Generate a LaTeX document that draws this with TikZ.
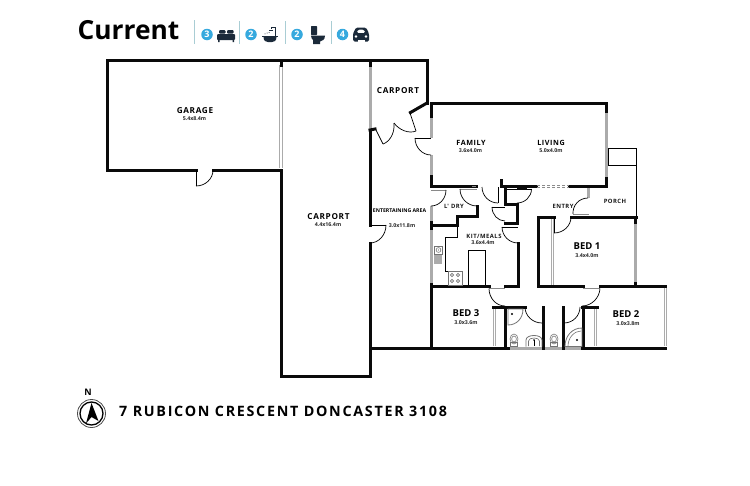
\documentclass[tikz,border=0pt]{standalone}
\usepackage{fontspec}
\setmainfont{Open Sans}
\newfontfamily\labf[LetterSpace=8]{Open Sans}
\newfontfamily\addrf[LetterSpace=12]{Open Sans}
\usetikzlibrary{calc}
\definecolor{wallc}{HTML}{0A0A0A}
\definecolor{greyw}{HTML}{ABABAB}
\definecolor{badge}{HTML}{36A9DE}
\definecolor{icon}{HTML}{1B2A3A}
\definecolor{divid}{HTML}{A9CDD4}
\tikzset{
 wall/.style={draw=wallc,line width=3pt,line cap=rect,miter limit=4},
 wallm/.style={draw=wallc,line width=2.2pt},
 win/.style={draw=greyw,line width=3pt},
 winbar/.style={draw=greyw,line width=1pt},
 thinl/.style={draw=black,line width=.7pt},
 greyleaf/.style={draw=greyw!80!black,line width=1pt},
 fix/.style={draw=black!55,line width=.6pt},
 roomlab/.style={font=\labf\bfseries\fontsize{8.2}{9}\selectfont,inner sep=0pt,text=black},
 midlab/.style={font=\labf\bfseries\fontsize{7.2}{8}\selectfont,inner sep=0pt,text=black},
 smalllab/.style={font=\labf\bfseries\fontsize{5.9}{7}\selectfont,inner sep=0pt,text=black!90},
 sizelab/.style={font=\bfseries\fontsize{5.3}{6}\selectfont,inner sep=0pt,text=black!85},
 bedlab/.style={font=\bfseries\fontsize{9.5}{11}\selectfont,inner sep=0pt,text=black},
 badgec/.style={circle,fill=badge,inner sep=0pt,minimum size=11.5pt,text=white,font=\bfseries\fontsize{9}{9}\selectfont},
 dividl/.style={draw=divid,line width=.8pt},
}
% hinge, start, end : quarter door swing
\newcommand{\swing}[3]{\draw[thinl] (#2) .. controls ($(#2)+.55*(#3)-.55*(#1)$) and ($(#3)+.55*(#2)-.55*(#1)$) .. (#3);}
\begin{document}
\begin{tikzpicture}[x=1pt,y=-1pt]
\useasboundingbox (0,0) rectangle (750,485);
\fill[white] (0,0) rectangle (750,485);

% ---- title
\node[anchor=west,inner sep=0pt,font=\bfseries\fontsize{26.3}{28}\selectfont] (title) at (77.5,30.5) {Current};
\draw[dividl] (194.5,20) -- (194.5,44);
\draw[dividl] (239.5,21) -- (239.5,44);
\draw[dividl] (285.5,21) -- (285.5,44);
\draw[dividl] (331.5,21) -- (331.5,44);
\node[badgec] (b1) at (207,34.5) {3};
\node[badgec] (b2) at (251,34.5) {2};
\node[badgec] (b3) at (297,34.5) {2};
\node[badgec] (b4) at (342.5,34.5) {4};
% bed
\fill[icon,rounded corners=1pt] (217,34) rectangle (235,40);
\fill[icon,rounded corners=1pt] (219,30) rectangle (225.5,33.5);
\fill[icon,rounded corners=1pt] (227,30) rectangle (233.5,33.5);
\fill[icon] (218,40) rectangle (219.5,42) (232.5,40) rectangle (234,42);
% bath
\fill[icon] (262,35.5) rectangle (278,37);
\fill[icon] (263.5,37) -- (276.5,37) .. controls (276.5,41) and (274,42) .. (272,42) -- (268,42) .. controls (266,42) and (263.5,41) .. (263.5,37) -- cycle;
\draw[icon,line width=1pt] (275.5,36) -- (275.5,27) -- (271,27) -- (271,29);
\fill[icon] (268.5,29.5) rectangle (273,31);
\fill[icon] (267,33) circle (.5) (269,32.5) circle (.5) (265,33.8) circle (.5);
% toilet
\fill[icon,rounded corners=.6pt] (311,26) rectangle (317,35);
\fill[icon] (311,35.5) -- (325,35.5) .. controls (325,40) and (322,41) .. (320,41.5) -- (320,44) -- (313,44) -- (313,40) .. controls (312,39) and (311,38) .. (311,35.5) -- cycle;
% car
\fill[icon,rounded corners=1.5pt,even odd rule] (353,41.5) -- (353,33.5) -- (356,27.5) -- (366,27.5) -- (369,33.5) -- (369,41.5) -- cycle (356.5,33) -- (358,29.5) -- (364,29.5) -- (365.5,33) -- cycle;
\fill[white] (356,36.5) circle (1.3) (366,36.5) circle (1.3);
\fill[white] (357.5,40.3) rectangle (364.5,42);

% ---- windows (under walls)
\draw[win] (370,66) -- (370,129);
\draw[winbar] (279.7,65) -- (279.7,168) (282.5,65) -- (282.5,168);
\draw[win] (431,116) -- (431,138);
\draw[win] (431,155) -- (431,176);
\draw[win] (606,111) -- (606,178);
\draw[win] (635.5,222) -- (635.5,283);
\draw[win] (431,206) -- (431,223);
\draw[win] (431,228) -- (431,284);
\draw[win] (431,289) -- (431,346);
\draw[win] (588,187) -- (588,198);
\draw[win] (552,219) -- (552,285);
\draw[win] (494.5,308) -- (494.5,346);
\draw[win] (595.5,308) -- (595.5,346);
\draw[win] (665,288) -- (665,346);
\fill[white] (551.6,219) rectangle (552.4,285);
\fill[white] (494.1,308) rectangle (494.9,346);
\fill[white] (595.1,308) rectangle (595.9,346);
\fill[white] (664.6,288) rectangle (665.4,346);
\draw[win] (508,348) -- (582,348);

% ---- walls
\draw[wall] (196,170) -- (107,170) -- (107,60) -- (427,60) -- (427,103);
\draw[wall] (213,170) -- (281,170);
\draw[wall] (281,60) -- (281,65);
\draw[wall] (281,170) -- (281,376) -- (370,376) -- (370,243);
\draw[wall] (370,225) -- (370,130);
\draw[wall] (370,60) -- (370,65);
\draw[wall] (370,130) -- (375,129);
\draw[wall] (427,103) -- (410.5,112.5);
\draw[wall] (431,116) -- (431,103) -- (606,103) -- (606,111);
\draw[wall] (431,176) -- (431,186) -- (476,186);
\draw[wall] (606,178) -- (606,186) -- (569,186);
\draw[wall] (536,186) -- (501,186) -- (501,180);
\draw[wall] (505,186) -- (505,204) -- (517.5,204) -- (517.5,223) -- (505,223);
\draw[wall] (518,243) -- (518,286);
\draw[wall] (477,206) -- (477,216.5) -- (457,216.5) -- (457,225) -- (431,225);
\draw[wall] (431,222) -- (431,228);
\draw[wall] (431,284) -- (431,348);
\draw[wall] (431,286) -- (489,286);
\draw[wall] (505,286) -- (518,286);
\draw[wall] (571,217) -- (636,217);
\draw[wall] (554,217) -- (538,217) -- (538,286) -- (583,286);
\draw[wall] (600,286) -- (665,286);
\draw[wall] (635.5,217) -- (635.5,222);
\draw[wall] (635.5,283) -- (635.5,286);
\draw[wall] (370,348) -- (508,348);
\draw[wall] (582,348) -- (665,348);
\draw[wall] (493,307) -- (525,307);
\draw[wall] (505.5,307) -- (505.5,348);
\draw[wall] (543.5,307) -- (543.5,348);
\draw[wall] (563,307) -- (563,348);
\draw[wall] (582,307) -- (597,307);
\draw[wall] (583,307) -- (583,348);

% ---- porch
\draw[thinl,line width=1pt] (608,148) -- (636,148) -- (636,216);
\draw[thinl,line width=1pt] (608,148) -- (608,165) -- (636,165);

% ---- sliding door
\draw[black!45,line width=.6pt,dash pattern=on 3pt off 2pt] (537,185) -- (569,185) (537,187) -- (569,187);

% ---- door leaves and swings
\draw[thinl] (196,170) -- (196,186); \swing{196,170}{196,186}{213,170}
% carport double door
\draw[thinl] (376,130) -- (383,144);
\draw[thinl] (383,144) .. controls (389,142) and (395,134) .. (394,123);
\draw[thinl] (394,123) .. controls (399,130) and (409,134) .. (416,131);
\draw[thinl] (416,131) -- (410,113);
% family
\draw[thinl] (415,138) -- (431,138); \swing{431,138}{415,138}{431,155}
% under family
\draw[thinl] (498,187) -- (498,203); \swing{498,187}{482,187}{498,203}
\draw[greyleaf] (476,186) -- (472,186);
% closet doors
\draw[thinl] (507,189) -- (531.5,189); \swing{517,189}{531.5,189}{517,203}
\draw[wallm] (517,188.5) -- (527,188.5);
\draw[thinl] (492,207) -- (505,207); \swing{505,207}{492,207}{505,221}
% l'dry
\draw[greyleaf] (431,190) -- (446,190); \swing{431,190}{446,190}{431,206}
\draw[greyleaf] (460,189) -- (477,189); \swing{477,189}{460,189}{477,206}
% kit
\draw[thinl] (502,227) -- (518,227); \swing{518,227}{502,227}{518,243}
% entertaining
\draw[thinl] (370,225) -- (386,225); \swing{370,225}{386,225}{370,243}
% entry
\draw[greyleaf] (573,214) -- (589,214); \swing{589,214}{573,214}{588,198}
% bed 1
\draw[thinl] (554,217) -- (554,233); \swing{554,217}{554,233}{571,217}
% bed 3
\draw[greyleaf] (489,288.5) -- (505,288.5); \swing{505,288.5}{489,288.5}{505,306}
% bed 2
\draw[greyleaf] (583,288.5) -- (600,288.5); \swing{583,288.5}{600,288.5}{582,306}
% bathrooms
\swing{542,307}{525,307}{542,323}
\swing{564,307}{580,307}{564,323}

% ---- kitchen fittings
\draw[thinl,line width=.6pt] (457,227) -- (457,237) -- (445,237) -- (445,271) -- (448,271);
\draw[fix] (448,271) rectangle (462,285);
\foreach \a/\b in {452/275,458/275,452/281,458/281} \draw[fix] (\a,\b) circle (1.6);
\draw[thinl,line width=.6pt] (468,285) -- (468,250) -- (485,250) -- (485,285);
\fill[greyw] (434,254) rectangle (442,264);
\draw[fix] (434,246) rectangle (442,254);
\draw[fix] (438.5,250) circle (2.4);
\fill[black!60] (438.5,250) circle (.6);

% ---- bathroom fittings
\draw[fix,line width=.8pt] (508,309) -- (523,309) .. controls (523,318) and (517,325) .. (508,325) -- cycle;
\fill[black] (512,314) circle (1.1);
\draw[fix,line width=.8pt] (582,328) .. controls (572,328) and (565,336) .. (565,346.5) -- (582,346.5) -- cycle;
\draw[fix,line width=.6pt] (581,331) .. controls (574,331) and (568,338) .. (568,346);
\fill[black] (577,340) circle (1.1);
\foreach \tx in {514,554}{
 \draw[fix] (\tx,339) ellipse (4 and 5);
 \draw[fix] (\tx,339) ellipse (2.4 and 3);
 \draw[fix] (\tx-3.5,342) rectangle (\tx+3.5,346.5);
}
\draw[fix,line width=.8pt] (526,346.5) -- (526,340) .. controls (526,334) and (542,334) .. (542,340) -- (542,346.5);
\draw[fix] (528.5,346) -- (528.5,341) .. controls (528.5,337) and (539.5,337) .. (539.5,341) -- (539.5,346);
\fill[black] (534,340) circle (.8);
\draw[black,line width=.6pt] (534,340) -- (534,346);

% ---- labels
\node[roomlab] (l1) at (195,111) {GARAGE};
\node[sizelab] (s1) at (194.5,119) {5.4x8.4m};
\node[roomlab] (l2) at (328.5,217) {CARPORT};
\node[sizelab] (s2) at (328,225) {4.4x16.4m};
\node[roomlab] (l3) at (398,90.5) {CARPORT};
\node[midlab] (l4) at (471,143) {FAMILY};
\node[sizelab] (s4) at (470.5,151) {3.6x4.0m};
\node[midlab] (l5) at (551,143) {LIVING};
\node[sizelab] (s5) at (551,151) {5.0x4.0m};
\node[smalllab] (l6) at (454,206) {L' DRY};
\node[smalllab] (l7) at (563,206) {ENTRY};
\node[smalllab] (l8) at (615,201) {PORCH};
\node[font=\bfseries\fontsize{5.2}{6}\selectfont,inner sep=0pt] (l9) at (399.5,211) {ENTERTAINING AREA};
\node[sizelab] (s9) at (402,226) {3.0x11.8m};
\node[smalllab] (l10) at (484,236) {KIT/MEALS};
\node[sizelab] (s10) at (483,243) {3.6x4.4m};
\node[bedlab] (l11) at (587,246.5) {BED 1};
\node[sizelab] (s11) at (587,255.5) {3.4x4.0m};
\node[bedlab] (l12) at (466,313.5) {BED 3};
\node[sizelab] (s12) at (466,323) {3.0x3.6m};
\node[bedlab] (l13) at (626,314.5) {BED 2};
\node[sizelab] (s13) at (628,324) {3.0x3.8m};

% ---- address
\node[anchor=west,inner sep=0pt,font=\addrf\bfseries\fontsize{14.3}{15}\selectfont] (addr) at (119,411.5) {7 RUBICON CRESCENT DONCASTER 3108};

% ---- compass
\node[inner sep=0pt,font=\bfseries\fontsize{9}{9}\selectfont] (north) at (88,392.5) {N};
\draw[black!70,line width=.8pt] (91.5,413.5) circle (14);
\draw[black,line width=1.3pt] (91.5,413.5) circle (11.5);
\fill[black] (91.5,403) -- (98.5,421) -- (91.5,417) -- (86,423.5) -- cycle;
\end{tikzpicture}
\end{document}
